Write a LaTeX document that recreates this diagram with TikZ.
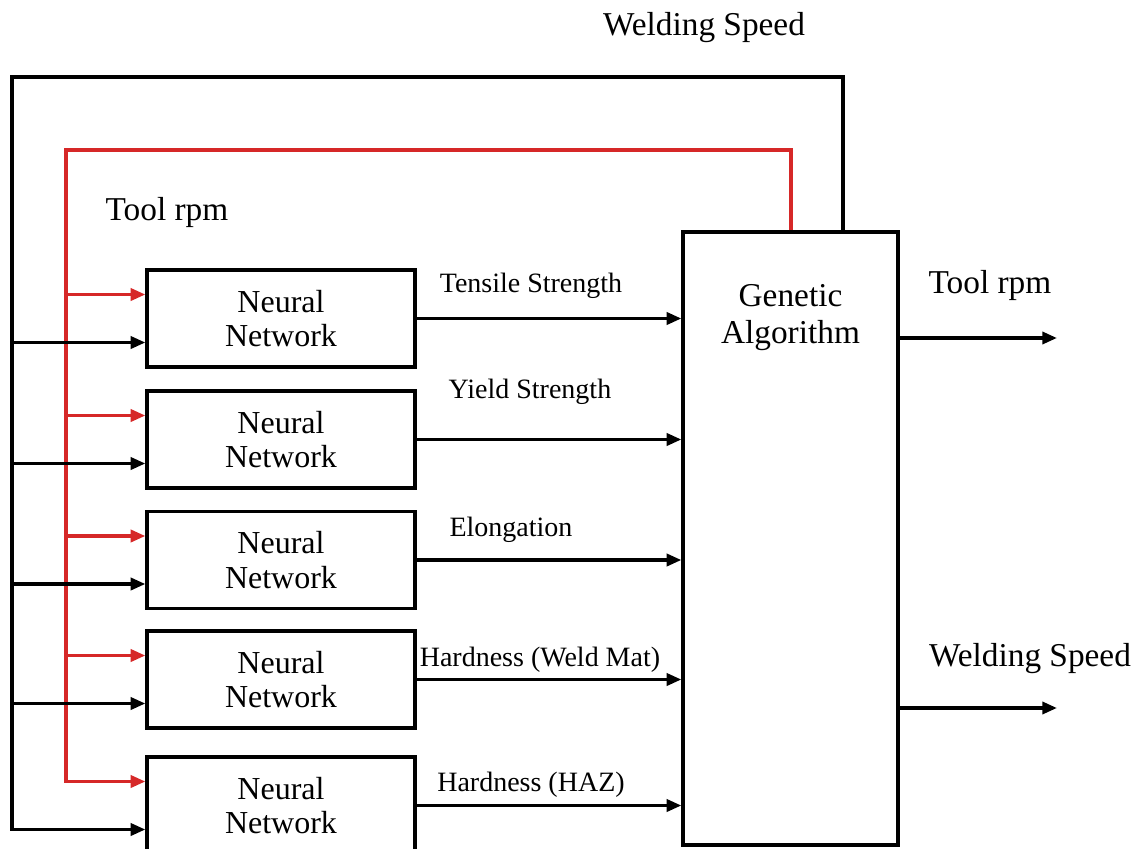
\documentclass[tikz,border=0pt]{standalone}
\usepackage{fontspec}
\setmainfont{Liberation Serif}
\usetikzlibrary{positioning,arrows.meta,calc}
\definecolor{loopred}{RGB}{214,40,40}
\tikzset{
  nnbox/.style={draw=black, line width=2.4pt, minimum width=201pt, minimum height=72.75pt,
    inner sep=0pt, align=center, font=\fontsize{24}{26}\selectfont},
  gabox/.style={draw=black, line width=2.4pt, minimum width=161.25pt, minimum height=459.75pt,
    inner sep=0pt},
  feed/.style={line width=2.6pt, draw=black, -{Triangle[length=11pt,width=9pt]}},
  redfeed/.style={line width=2.6pt, draw=loopred, -{Triangle[length=11pt,width=9pt]}},
  outlabel/.style={inner sep=0pt, font=\fontsize{21}{24}\selectfont},
  biglabel/.style={inner sep=0pt, font=\fontsize{25}{28}\selectfont}
}

\begin{document}
\begin{tikzpicture}[x=0.75pt,y=-0.75pt, line join=miter]
    \useasboundingbox (0,0) rectangle (1147,849);
    \clip (0,0) rectangle (1147,849);

    \node[gabox, label={[anchor=north, yshift=-40pt, align=center, inner sep=0pt,
      font=\fontsize{25}{28}\selectfont]north:Genetic\\Algorithm}] (ga) at (790.5,538.5) {};
    \foreach \i/\yc in {1/318.5,2/439.5,3/560,4/679.5,5/805.5}
      \node[nnbox] (nn\i) at (281,\yc) {Neural\\Network};

    \coordinate (blkl) at (12,77); \coordinate (blkr) at (843,77);
    \coordinate (redl) at (66,150); \coordinate (redr) at (791,150);
    \coordinate (o1) at (1057,338); \coordinate (o2) at (1057,708);

    % feedback of welding speed (black) and tool rpm (red)
    \draw[feed] (ga.north -| blkr) -- (blkr) -- (blkl) |- ([yshift=-18pt]nn5.west);
    \draw[redfeed] (ga.north -| redr) -- (redr) -- (redl) |- ([yshift=18pt]nn5.west);
    \foreach \i in {1,...,4} {
      \draw[feed] ([yshift=-18pt]nn\i.west -| blkl) -- ([yshift=-18pt]nn\i.west);
      \draw[redfeed] ([yshift=18pt]nn\i.west -| redl) -- ([yshift=18pt]nn\i.west);
    }

    % network outputs into the GA
    \foreach \i/\txt/\lx/\ly in {1/Tensile Strength/531/286, 2/Yield Strength/530/392,
        3/Elongation/511/530, 4/Hardness (Weld Mat)/540/660, 5/Hardness (HAZ)/531/785} {
      \draw[feed] (nn\i.east) -- (nn\i.east -| ga.west);
      \node[outlabel] (lab\i) at (\lx,\ly) {\txt};
    }

    \draw[feed] (ga.east |- o1) -- (o1);
    \draw[feed] (ga.east |- o2) -- (o2);

    \node[biglabel] (ws) at (704,28) {Welding Speed};
    \node[biglabel] (rpm) at (167,212) {Tool rpm};
    \node[biglabel] (rpmout) at (990,285) {Tool rpm};
    \node[biglabel] (wsout) at (1030,659) {Welding Speed};
  \end{tikzpicture}
\end{document}
